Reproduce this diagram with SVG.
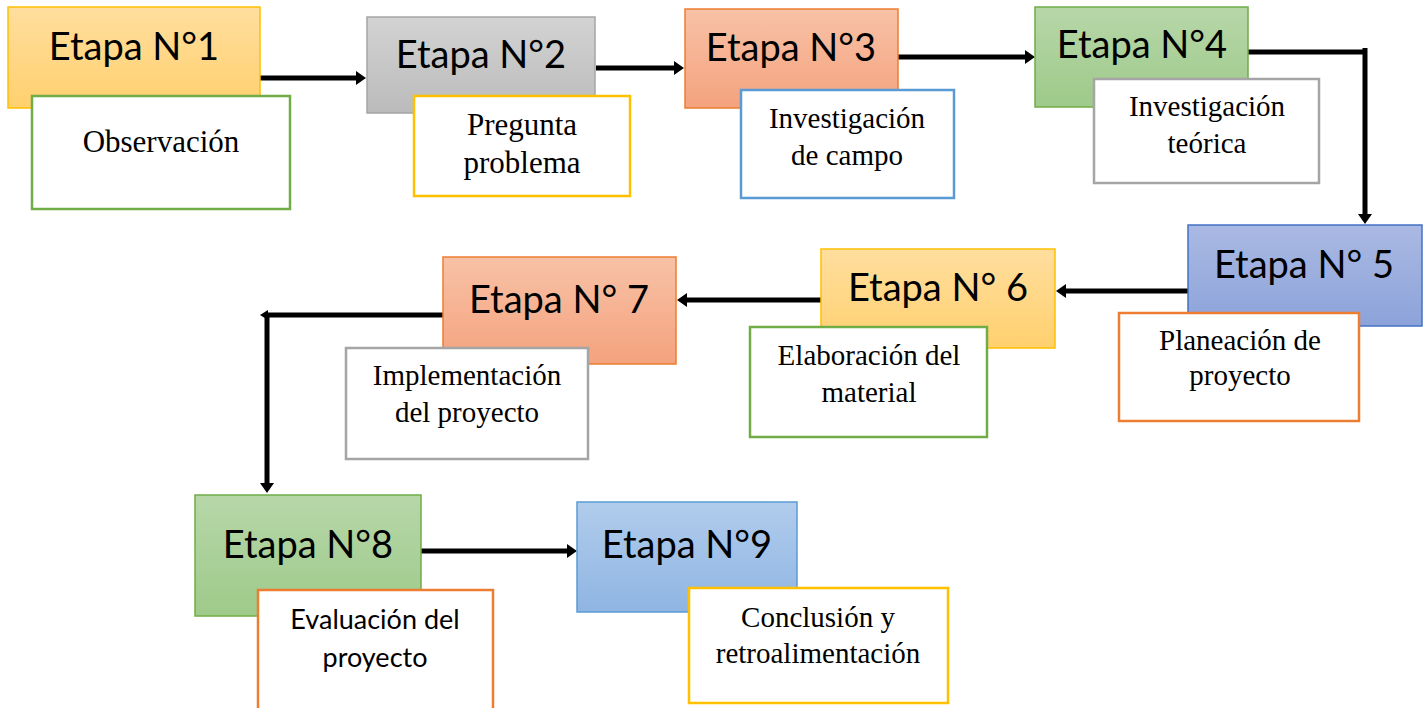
<svg xmlns="http://www.w3.org/2000/svg" width="1426" height="708" viewBox="0 0 1426 708">
<style>
.stage{font-family:Lato,"Liberation Sans",sans-serif;font-size:38px;fill:#000;text-anchor:middle}
.desc{font-family:"Liberation Serif","Times New Roman",serif;font-size:29px;fill:#000;text-anchor:middle}
.descs{font-family:Lato,"Liberation Sans",sans-serif;font-size:27px;fill:#000;text-anchor:middle}
.wb{fill:#fff;stroke-width:2.5}
.cb{stroke-width:1.5}
.conn{fill:none;stroke:#000;stroke-width:5}
</style>
<defs>
<linearGradient id="gOr" x1="0" y1="0" x2="0" y2="1"><stop offset="0" stop-color="#FFDE9E"/><stop offset="1" stop-color="#FFD06E"/></linearGradient>
<linearGradient id="gGy" x1="0" y1="0" x2="0" y2="1"><stop offset="0" stop-color="#D3D3D3"/><stop offset="1" stop-color="#BBBBBB"/></linearGradient>
<linearGradient id="gSa" x1="0" y1="0" x2="0" y2="1"><stop offset="0" stop-color="#F8C2A6"/><stop offset="1" stop-color="#F4A27E"/></linearGradient>
<linearGradient id="gGr" x1="0" y1="0" x2="0" y2="1"><stop offset="0" stop-color="#B7D7A9"/><stop offset="1" stop-color="#9ECA8A"/></linearGradient>
<linearGradient id="gBl" x1="0" y1="0" x2="0" y2="1"><stop offset="0" stop-color="#AAB9E3"/><stop offset="1" stop-color="#8CA3DA"/></linearGradient>
<linearGradient id="gLb" x1="0" y1="0" x2="0" y2="1"><stop offset="0" stop-color="#B1CCEC"/><stop offset="1" stop-color="#8FB5E3"/></linearGradient>
<marker id="ah" markerUnits="userSpaceOnUse" markerWidth="10" markerHeight="14" refX="2" refY="7" orient="auto"><path d="M0,0 L10,7 L0,14 z" fill="#000"/></marker>
<marker id="ahs" markerUnits="userSpaceOnUse" markerWidth="8" markerHeight="10" refX="2" refY="5" orient="auto"><path d="M0,0 L8,5 L0,10 z" fill="#000"/></marker>
</defs>

<g id="connectors">
<line class="conn" x1="258" y1="78" x2="358" y2="78" marker-end="url(#ah)"/>
<line class="conn" x1="596" y1="68" x2="676" y2="68" marker-end="url(#ah)"/>
<line class="conn" x1="898" y1="57" x2="1027" y2="57" marker-end="url(#ah)"/>
<path class="conn" d="M1248,52 H1365"/>
<path class="conn" d="M1365,48 V216" marker-end="url(#ah)"/>
<line class="conn" x1="1188" y1="291" x2="1064" y2="291" marker-end="url(#ah)"/>
<line class="conn" x1="821" y1="300" x2="685" y2="300" marker-end="url(#ah)"/>
<line class="conn" x1="443" y1="315" x2="266" y2="315" marker-end="url(#ahs)"/>
<path class="conn" d="M267,313 V485" marker-end="url(#ah)"/>
<line class="conn" x1="421" y1="551" x2="569" y2="551" marker-end="url(#ah)"/>
</g>

<g id="n1">
<rect class="cb" x="8" y="7" width="252" height="101" fill="url(#gOr)" stroke="#FFC000"/>
<text class="stage" x="134" y="60">Etapa N°1</text>
<rect class="wb" x="32" y="96" width="258" height="113" stroke="#70AD47"/>
<text class="desc" x="161" y="152" style="font-size:31px">Observación</text>
</g>

<g id="n2">
<rect class="cb" x="367" y="17" width="228" height="96" fill="url(#gGy)" stroke="#A5A5A5"/>
<text class="stage" x="481" y="68">Etapa N°2</text>
<rect class="wb" x="414" y="96" width="216" height="100" stroke="#FFC000"/>
<text class="desc" x="522" y="135" style="font-size:31px">Pregunta</text>
<text class="desc" x="522" y="173" style="font-size:31px">problema</text>
</g>

<g id="n3">
<rect class="cb" x="685" y="9" width="213" height="99" fill="url(#gSa)" stroke="#ED7D31"/>
<text class="stage" x="791" y="61">Etapa N°3</text>
<rect class="wb" x="741" y="90" width="213" height="108" stroke="#5B9BD5"/>
<text class="desc" x="847" y="128">Investigación</text>
<text class="desc" x="847" y="165">de campo</text>
</g>

<g id="n4">
<rect class="cb" x="1035" y="7" width="213" height="100" fill="url(#gGr)" stroke="#70AD47"/>
<text class="stage" x="1142" y="58">Etapa N°4</text>
<rect class="wb" x="1094" y="79" width="225" height="104" stroke="#A5A5A5"/>
<text class="desc" x="1207" y="116">Investigación</text>
<text class="desc" x="1207" y="153">teórica</text>
</g>

<g id="n5">
<rect class="cb" x="1188" y="225" width="234" height="101" fill="url(#gBl)" stroke="#4472C4"/>
<text class="stage" x="1304" y="278">Etapa N° 5</text>
<rect class="wb" x="1119" y="313" width="240" height="108" stroke="#ED7D31"/>
<text class="desc" x="1240" y="350">Planeación de</text>
<text class="desc" x="1240" y="385">proyecto</text>
</g>

<g id="n6">
<rect class="cb" x="821" y="249" width="234" height="99" fill="url(#gOr)" stroke="#FFC000"/>
<text class="stage" x="938" y="301">Etapa N° 6</text>
<rect class="wb" x="750" y="327" width="237" height="110" stroke="#70AD47"/>
<text class="desc" x="869" y="365">Elaboración del</text>
<text class="desc" x="869" y="402">material</text>
</g>

<g id="n7">
<rect class="cb" x="443" y="257" width="233" height="107" fill="url(#gSa)" stroke="#ED7D31"/>
<text class="stage" x="559" y="313">Etapa N° 7</text>
<rect class="wb" x="346" y="348" width="242" height="111" stroke="#A5A5A5"/>
<text class="desc" x="467" y="385">Implementación</text>
<text class="desc" x="467" y="422">del proyecto</text>
</g>

<g id="n8">
<rect class="cb" x="195" y="495" width="226" height="121" fill="url(#gGr)" stroke="#70AD47"/>
<text class="stage" x="308" y="558">Etapa N°8</text>
<rect class="wb" x="258" y="590" width="235" height="125" stroke="#ED7D31"/>
<text class="descs" x="375" y="629">Evaluación del</text>
<text class="descs" x="375" y="667">proyecto</text>
</g>

<g id="n9">
<rect class="cb" x="577" y="502" width="220" height="110" fill="url(#gLb)" stroke="#5B9BD5"/>
<text class="stage" x="687" y="558">Etapa N°9</text>
<rect class="wb" x="689" y="588" width="259" height="115" stroke="#FFC000"/>
<text class="desc" x="818" y="627">Conclusión y</text>
<text class="desc" x="818" y="663">retroalimentación</text>
</g>
</svg>
